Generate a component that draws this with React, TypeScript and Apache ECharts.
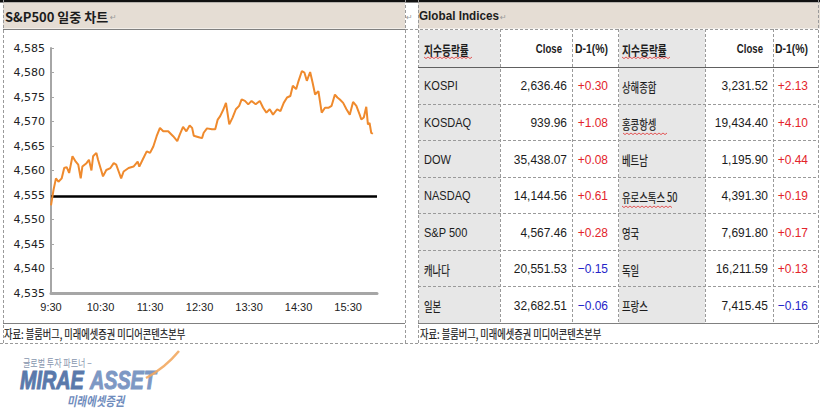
import React, { useEffect, useRef } from "react";
import * as echarts from "echarts";

// ---- intraday S&P 500 (minutes after 9:30, index level) ----
const minutesFromOpen = [
  0, 3, 6, 9, 13, 16, 19, 22, 26, 30,
  33, 36, 38, 43, 46, 49, 51, 55, 57, 60,
  63, 67, 72, 76, 79, 82, 85, 88, 94, 100,
  105, 107, 111, 116, 120, 124, 128, 132, 136, 142,
  148, 153, 156, 160, 164, 168, 171, 173, 179, 183,
  185, 189, 195, 199, 202, 205, 209, 212, 216, 220,
  224, 228, 231, 235, 239, 243, 248, 253, 257, 261,
  265, 269, 274, 278, 282, 286, 290, 293, 297, 300,
  304, 307, 310, 314, 317, 320, 324, 328, 332, 336,
  340, 344, 347, 350, 354, 358, 362, 366, 370, 374,
  376, 379, 382, 384, 386, 388, 390,
];
const spxLevels = [
  4552.9, 4556.0, 4558.4, 4557.7, 4558.4, 4560.5, 4560.7, 4559.5, 4562.9, 4561.8,
  4561.2, 4558.4, 4560.8, 4561.5, 4562.2, 4560.0, 4562.9, 4563.6, 4562.2, 4560.5,
  4558.8, 4560.1, 4560.5, 4561.5, 4561.2, 4559.8, 4558.4, 4559.8, 4560.5, 4560.8,
  4561.8, 4560.8, 4562.2, 4563.9, 4563.6, 4564.9, 4567.0, 4568.7, 4568.0, 4568.0,
  4567.0, 4566.0, 4567.3, 4568.9, 4568.0, 4569.2, 4568.7, 4567.1, 4566.8, 4566.6,
  4567.7, 4568.6, 4568.4, 4568.4, 4570.4, 4571.1, 4572.5, 4573.8, 4569.4, 4570.8,
  4572.5, 4573.2, 4574.5, 4574.2, 4573.5, 4574.2, 4573.5, 4574.2, 4572.8, 4571.8,
  4572.5, 4571.4, 4572.5, 4572.1, 4573.8, 4574.9, 4575.2, 4577.3, 4576.6, 4578.3,
  4580.3, 4580.0, 4578.3, 4580.1, 4577.9, 4575.5, 4576.2, 4571.8, 4572.8, 4572.8,
  4573.2, 4575.5, 4574.9, 4574.5, 4573.8, 4572.5, 4571.4, 4574.0, 4573.2, 4571.4,
  4570.4, 4570.8, 4573.0, 4569.4, 4569.7, 4567.7, 4567.5,
];
const prevClose = 4554.7;
const xTickLabels = ["9:30", "10:30", "11:30", "12:30", "13:30", "14:30", "15:30"];

// ---- Global indices table ----
const tableHeaders = ["지수등락률", "Close", "D-1(%)"];
const leftNames = ["KOSPI", "KOSDAQ", "DOW", "NASDAQ", "S&P 500", "캐나다", "일본"];
const leftClose = [2636.46, 939.96, 35438.07, 14144.56, 4567.46, 20551.53, 32682.51];
const leftChange = [0.3, 1.08, 0.08, 0.61, 0.28, -0.15, -0.06];
const rightNames = ["상해종합", "홍콩항셍", "베트남", "유로스톡스 50", "영국", "독일", "프랑스"];
const rightClose = [3231.52, 19434.4, 1195.9, 4391.3, 7691.8, 16211.59, 7415.45];
const rightChange = [2.13, 4.1, 0.44, 0.19, 0.17, 0.13, -0.16];

const chartTitle = "S&P500 일중 차트";
const tableTitle = "Global Indices";
const sourceNote = "자료: 블룸버그, 미래에셋증권 미디어콘텐츠본부";

const SANS = "'Liberation Sans', Arial, 'Noto Sans CJK KR', sans-serif";
const KR = "'Noto Sans CJK KR', 'Liberation Sans', sans-serif";
const NARROW = "'Liberation Sans Narrow', 'Liberation Sans', sans-serif";
const BEIGE = "#E5DDD4";
const CELL_GREY = "#E7E7E7";
const DASH = "#9A9A9A";
const RED = "#E3242B";
const BLUE = "#2424C8";
const INK = "#1c1c1c";

type TOpt = { size?: number; weight?: string; family?: string; fill?: any; align?: string; sx?: number; fstyle?: string; stroke?: string; lw?: number };
const T = (x: number, y: number, text: string, o: TOpt = {}) => ({
  type: "text",
  x,
  y,
  scaleX: o.sx ?? 1,
  silent: true,
  z: 20,
  style: {
    x: 0,
    y: 0,
    text,
    fill: o.fill ?? INK,
    fontSize: o.size ?? 12,
    fontWeight: o.weight ?? "normal",
    fontStyle: o.fstyle ?? "normal",
    fontFamily: o.family ?? SANS,
    textAlign: o.align ?? "left",
    textVerticalAlign: "middle",
    align: o.align ?? "left",
    verticalAlign: "middle",
    stroke: o.stroke,
    lineWidth: o.lw ?? 0,
  },
});
const L = (x1: number, y1: number, x2: number, y2: number, stroke: string, dashed = false, lw = 1) => ({
  type: "line",
  silent: true,
  z: 15,
  shape: { x1, y1, x2, y2 },
  style: { stroke, lineWidth: lw, lineDash: dashed ? [3, 2] : null },
});
const R = (x: number, y: number, width: number, height: number, fill: string) => ({
  type: "rect",
  silent: true,
  z: 10,
  shape: { x, y, width, height },
  style: { fill },
});
const wavy = (x0: number, x1: number, y: number) => {
  const pts: number[][] = [];
  let k = 0;
  for (let x = x0; x <= x1; x += 2, k++) pts.push([x, y + (k % 2 ? 1.6 : 0)]);
  return { type: "polyline", silent: true, z: 21, shape: { points: pts }, style: { stroke: "#E03030", lineWidth: 0.8, fill: null } };
};
const hasHangul = (s: string) => /[가-힣]/.test(s);
const fmtClose = (v: number) => v.toLocaleString("en-US", { minimumFractionDigits: 2, maximumFractionDigits: 2 });
const fmtChg = (v: number) => (v >= 0 ? "+" : "\u2212") + Math.abs(v).toFixed(2);

function buildGraphics() {
  const els: any[] = [];
  // top rule and header bands
  els.push(R(0, 0, 820, 2.5, "#111111"));
  els.push(R(3, 2.5, 402, 26, BEIGE));
  els.push(R(418, 2.5, 402, 26, BEIGE));
  els.push(T(5, 16, chartTitle, { size: 13, weight: "bold", family: KR }));
  els.push(T(110, 17, "↵", { size: 8, fill: "#9a9a9a", family: "DejaVu Sans" }));
  els.push(T(406, 17, "↵", { size: 8, fill: "#9a9a9a", family: "DejaVu Sans" }));
  els.push(T(419, 16, tableTitle, { size: 13, weight: "bold", sx: 0.9 }));
  els.push(T(500, 17, "↵", { size: 8, fill: "#9a9a9a", family: "DejaVu Sans" }));

  // panel borders
  els.push(L(3, 29.5, 405, 29.5, "#808080"));
  els.push(L(405, 29.5, 820, 29.5, DASH, true));
  [3.5, 405.5, 418.5, 818.5].forEach((x) => els.push(L(x, 0, x, 344, DASH, true)));
  els.push(L(3, 323.5, 405, 323.5, "#808080"));
  els.push(L(418, 323.5, 818, 323.5, "#808080"));
  els.push(L(0, 343.5, 820, 343.5, DASH, true));
  els.push(T(4, 333, sourceNote, { size: 12.5, family: KR, sx: 0.74, stroke: INK, lw: 0.2 }));
  els.push(T(420, 333, sourceNote, { size: 12.5, family: KR, sx: 0.74, stroke: INK, lw: 0.2 }));

  // table
  const top = 30;
  const headBottom = 67;
  const rowH = (323 - headBottom) / leftNames.length;
  els.push(R(419, top, 81, 323 - top, CELL_GREY));
  els.push(R(619, top, 86, 323 - top, CELL_GREY));
  [500.5, 572.5, 618.5, 705.5, 773.5].forEach((x) => els.push(L(x, 29, x, 323, DASH, true)));
  els.push(L(418, headBottom + 0.5, 818, headBottom + 0.5, "#606060"));
  for (let i = 1; i < leftNames.length; i++) {
    const y = Math.round(headBottom + rowH * i) + 0.5;
    els.push(L(418, y, 818, y, DASH, true));
  }
  const blocks = [
    { nameX: 424, closeR: 567, headCloseR: 562, chgR: 608, names: leftNames, close: leftClose, chg: leftChange },
    { nameX: 622, closeR: 768, headCloseR: 763, chgR: 808, names: rightNames, close: rightClose, chg: rightChange },
  ];
  blocks.forEach((b) => {
    els.push(T(b.nameX, 49, tableHeaders[0], { size: 13, weight: "bold", family: KR, sx: 0.75 }));
    els.push(wavy(b.nameX, b.nameX + 48, 57));
    els.push(T(b.headCloseR, 49, tableHeaders[1], { size: 12, weight: "bold", align: "right", sx: 0.8 }));
    els.push(T(b.chgR, 49, tableHeaders[2], { size: 12, weight: "bold", align: "right", sx: 0.87 }));
    b.names.forEach((n, i) => {
      const cy = headBottom + rowH * (i + 0.5) + 1;
      if (hasHangul(n)) {
        els.push(T(b.nameX, cy, n, { size: 13, family: KR, sx: 0.72, stroke: INK, lw: 0.2 }));
      } else {
        els.push(T(b.nameX, cy, n, { size: 12, sx: 0.92 }));
      }
      els.push(T(b.closeR, cy, fmtClose(b.close[i]), { size: 13, align: "right", sx: 0.92 }));
      els.push(T(b.chgR, cy, fmtChg(b.chg[i]), { size: 13, align: "right", sx: 0.92, fill: b.chg[i] >= 0 ? RED : BLUE }));
    });
  });
  // spell-check squiggles
  els.push(wavy(623, 668, 133));
  els.push(wavy(622, 672, 206));

  // logo
  els.push(T(23, 363, "글로벌 투자 파트너 −", { size: 10, family: KR, fill: "#8796AE", sx: 0.8 }));
  els.push(T(20, 381, "MIRAE", { size: 25, weight: "bold", fstyle: "italic", sx: 0.79, fill: "#5A79AB", stroke: "#5A79AB", lw: 1 }));
  els.push(T(90, 381, "ASSET", { size: 25, weight: "bold", fstyle: "italic", sx: 0.79, fill: "#7D98C4", stroke: "#7D98C4", lw: 1 }));
  els.push({
    type: "bezierCurve",
    silent: true,
    z: 22,
    shape: { x1: 146, y1: 378, cpx1: 165, cpy1: 368, x2: 179, y2: 351 },
    style: { stroke: "#F2A860", lineWidth: 2.5, fill: null, opacity: 0.9 },
  });
  els.push(T(67, 400, "미래에셋증권", { size: 13, weight: "bold", fstyle: "italic", family: KR, fill: "#6F8CBD", sx: 0.8 }));
  return els;
}

export default function App() {
  const ref = useRef<HTMLDivElement>(null);
  useEffect(() => {
    if (!ref.current) return;
    const chart = echarts.init(ref.current, undefined, { renderer: "svg" });
    const data = minutesFromOpen.map((m, i) => [m, spxLevels[i]]);
    chart.setOption({
      animation: false,
      backgroundColor: "#ffffff",
      grid: { left: 51, top: 48, width: 326, height: 245, containLabel: false },
      xAxis: {
        type: "value",
        min: 0,
        max: 395,
        interval: 60,
        axisLine: { show: true, lineStyle: { color: "#A6A6A6", width: 3 } },
        axisTick: { show: false },
        splitLine: { show: false },
        axisLabel: {
          color: "#222",
          fontSize: 11,
          fontFamily: NARROW,
          margin: 8,
          showMaxLabel: false,
          formatter: (v: number) => (v % 60 === 0 ? xTickLabels[v / 60] ?? "" : ""),
        },
      },
      yAxis: {
        type: "value",
        min: 4535,
        max: 4585,
        interval: 5,
        axisLine: { show: true, lineStyle: { color: "#A6A6A6", width: 2 } },
        axisTick: { show: true, inside: true, length: 3, lineStyle: { color: "#A6A6A6" } },
        splitLine: { show: false },
        axisLabel: {
          color: "#222",
          fontSize: 11,
          fontFamily: "'DejaVu Sans', sans-serif",
          margin: 6,
          formatter: (v: number) => v.toLocaleString("en-US"),
        },
      },
      series: [
        {
          type: "line",
          data,
          showSymbol: false,
          lineStyle: { color: "#EF8A2D", width: 2 },
          z: 3,
          markLine: {
            silent: true,
            symbol: "none",
            label: { show: false },
            lineStyle: { color: "#000", width: 2.5, type: "solid" },
            data: [{ yAxis: prevClose }],
            z: 2,
          },
        },
      ],
      graphic: { elements: buildGraphics() },
    });
    return () => chart.dispose();
  }, []);
  return <div ref={ref} style={{ position: "absolute", left: 0, top: 0, width: 820, height: 420 }} />;
}
